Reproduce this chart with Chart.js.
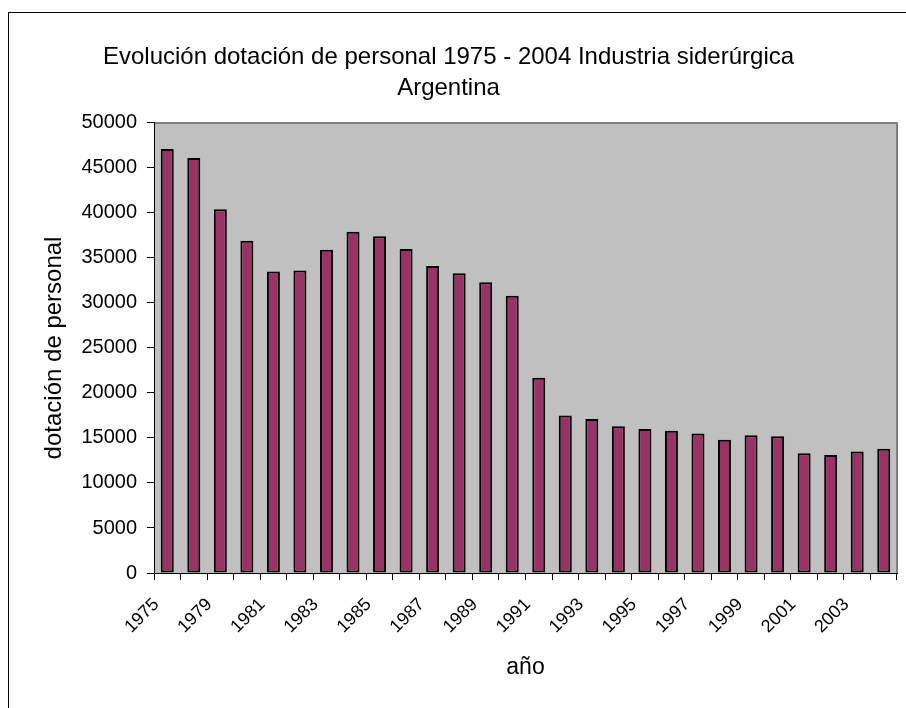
<!DOCTYPE html>
<html>
<head>
<meta charset="utf-8">
<script src="https://cdn.jsdelivr.net/npm/chart.js@4/dist/chart.umd.min.js"></script>
<style>
  html, body { margin: 0; padding: 0; background: #fff; }
  canvas { display: block; }
</style>
</head>
<body>
<canvas id="chart" width="906" height="708"></canvas>
<script>
const years = ['1975', '1977', '1979', '1980', '1981', '1982', '1983', '1984', '1985', '1986',
  '1987', '1988', '1989', '1990', '1991', '1992', '1993', '1994', '1995', '1996',
  '1997', '1998', '1999', '2000', '2001', '2002', '2003', '2004'];
const staff = [47100, 46100, 40400, 36900, 33500, 33600, 35900, 37900, 37400, 36000,
  34100, 33300, 32300, 30800, 21700, 17500, 17100, 16300, 16000, 15800,
  15500, 14800, 15300, 15200, 13300, 13100, 13500, 13800];
const titleLines = ['Evolución dotación de personal 1975 - 2004 Industria siderúrgica', 'Argentina'];
const yTitle = 'dotación de personal';
const xTitle = 'año';

const FONT = "'Liberation Sans', Arial, sans-serif";

// gray plot area + outer frame, like the old Excel look
const frame = {
  id: 'frame',
  beforeDraw(chart) {
    const { ctx, chartArea: a } = chart;
    ctx.save();
    ctx.fillStyle = '#fff';
    ctx.fillRect(0, 0, chart.width, chart.height);
    ctx.strokeStyle = '#000';
    ctx.lineWidth = 1;
    ctx.strokeRect(8.5, 12.5, 1200, 1200);
    ctx.fillStyle = '#c0c0c0';
    ctx.fillRect(a.left, a.top, a.right - a.left, a.bottom - a.top);
    ctx.strokeStyle = '#808080';
    ctx.lineWidth = 2;
    ctx.beginPath();
    ctx.moveTo(a.left, a.top);
    ctx.lineTo(a.right, a.top);
    ctx.lineTo(a.right, a.bottom);
    ctx.stroke();
    ctx.restore();
  }
};

new Chart(document.getElementById('chart'), {
  type: 'bar',
  data: {
    labels: years,
    datasets: [{
      data: staff,
      backgroundColor: '#993366',
      borderColor: '#000',
      borderWidth: 2,
      borderSkipped: false,
      barPercentage: 0.49,
      categoryPercentage: 1,
    }],
  },
  options: {
    responsive: false,
    animation: false,
    devicePixelRatio: 1,
    layout: { padding: { left: 0, right: 9, top: 0, bottom: 0 } },
    plugins: {
      legend: { display: false },
      tooltip: { enabled: false },
      title: {
        display: true,
        text: titleLines,
        color: '#000',
        font: { family: FONT, size: 24, weight: 'normal', lineHeight: 1.29 },
        padding: { top: 42, bottom: 19 },
      },
    },
    scales: {
      x: {
        offset: true,
        grid: { offset: true, drawOnChartArea: false, color: '#000', tickLength: 7 },
        border: { color: '#000', width: 1 },
        ticks: {
          autoSkip: false,
          maxRotation: 45,
          minRotation: 45,
          color: '#000',
          font: { family: FONT, size: 18 },
          padding: 14,
          labelOffset: -11,
          callback: (v, i) => (i % 2 === 0 ? years[i] : ''),
        },
        title: {
          display: true,
          text: xTitle,
          color: '#000',
          font: { family: FONT, size: 23 },
          padding: { top: 0, bottom: 27 },
        },
        afterFit: (s) => {
          s.height = 135;
          s.paddingLeft = 0;
          s.paddingRight = 0;
        },
      },
      y: {
        min: 0,
        max: 50000,
        grid: { drawOnChartArea: false, color: '#000', tickLength: 7 },
        border: { color: '#000', width: 1 },
        ticks: {
          stepSize: 5000,
          color: '#000',
          font: { family: FONT, size: 20 },
          padding: 10,
          callback: (v) => String(v),
        },
        title: {
          display: true,
          text: yTitle,
          color: '#000',
          font: { family: FONT, size: 24 },
          padding: { top: 40, bottom: 0 },
        },
        afterFit: (s) => { s.width = 154; },
      },
    },
  },
  plugins: [frame],
});
</script>
</body>
</html>
